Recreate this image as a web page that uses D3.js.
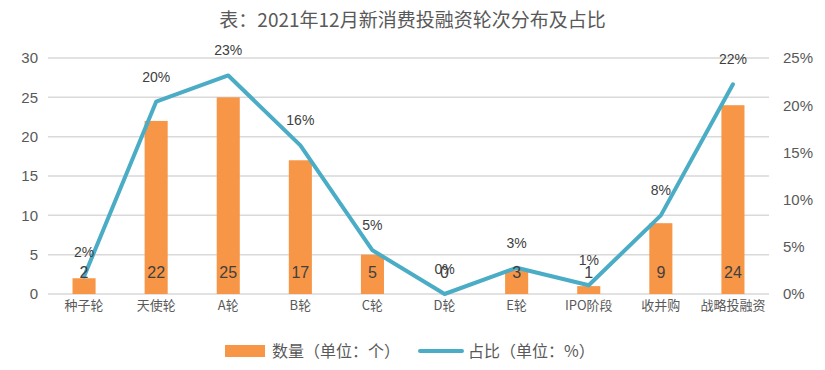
<!DOCTYPE html>
<html>
<head>
<meta charset="utf-8">
<script src="https://cdn.jsdelivr.net/npm/d3@7"></script>
<style>
  body { margin: 0; background: #fff; }
  text { font-family: "Noto Sans CJK SC", "Liberation Sans", sans-serif; }
</style>
</head>
<body>
<div id="chart"></div>
<script>
const WIDTH = 825;
const HEIGHT = 370;

// chart data
const categories = ['种子轮', '天使轮', 'A轮', 'B轮', 'C轮', 'D轮', 'E轮', 'IPO阶段', '收并购', '战略投融资'];
const counts = [2, 22, 25, 17, 5, 0, 3, 1, 9, 24];
const shares = [1.85, 20.37, 23.15, 15.74, 4.63, 0, 2.78, 0.93, 8.33, 22.22];
const leftTicks = [0, 5, 10, 15, 20, 25, 30];
const rightTicks = [0, 5, 10, 15, 20, 25];

const margin = { top: 58, right: 56, bottom: 76, left: 48 };
const innerW = WIDTH - margin.left - margin.right;
const innerH = HEIGHT - margin.top - margin.bottom;

const svg = d3.select('#chart')
  .append('svg')
  .attr('width', WIDTH)
  .attr('height', HEIGHT);

// title
svg.append('text')
  .attr('x', WIDTH / 2)
  .attr('y', 27)
  .attr('text-anchor', 'middle')
  .style('font-size', '19px')
  .style('fill', '#595959')
  .text('表：2021年12月新消费投融资轮次分布及占比');

const g = svg.append('g')
  .attr('transform', `translate(${margin.left},${margin.top})`);

const x = d3.scaleBand()
  .domain(categories)
  .range([0, innerW])
  .paddingInner(0.68)
  .paddingOuter(0.34);

const yLeft = d3.scaleLinear().domain([0, 30]).range([innerH, 0]);
const yRight = d3.scaleLinear().domain([0, 25]).range([innerH, 0]);

// gridlines
g.selectAll('.grid')
  .data(leftTicks)
  .enter()
  .append('line')
  .attr('x1', 0)
  .attr('x2', innerW)
  .attr('y1', d => yLeft(d))
  .attr('y2', d => yLeft(d))
  .style('stroke', '#d9d9d9')
  .style('stroke-width', 1.5);

// left axis
const leftAxis = g.append('g')
  .call(d3.axisLeft(yLeft).tickValues(leftTicks).tickSize(0).tickPadding(10));
leftAxis.select('.domain').remove();
leftAxis.selectAll('text')
  .style('font-size', '15px')
  .style('fill', '#595959')
  .style('font-family', '"Liberation Sans", sans-serif');

// right axis
const rightAxis = g.append('g')
  .attr('transform', `translate(${innerW},0)`)
  .call(d3.axisRight(yRight).tickValues(rightTicks).tickSize(0).tickPadding(14).tickFormat(d => d + '%'));
rightAxis.select('.domain').remove();
rightAxis.selectAll('text')
  .style('font-size', '15px')
  .style('fill', '#595959')
  .style('font-family', '"Liberation Sans", sans-serif');

// category axis
const bottomAxis = g.append('g')
  .attr('transform', `translate(0,${innerH})`)
  .call(d3.axisBottom(x).tickSize(0).tickPadding(7));
bottomAxis.select('.domain').remove();
bottomAxis.selectAll('text')
  .style('font-size', '13px')
  .style('fill', '#595959');

// bars
g.selectAll('.bar')
  .data(counts)
  .enter()
  .append('rect')
  .attr('x', (d, i) => x(categories[i]))
  .attr('y', d => yLeft(d))
  .attr('width', x.bandwidth())
  .attr('height', d => innerH - yLeft(d))
  .style('fill', '#F79646');

// line
const cx = i => x(categories[i]) + x.bandwidth() / 2;
const line = d3.line()
  .x((d, i) => cx(i))
  .y(d => yRight(d));

g.append('path')
  .datum(shares)
  .attr('d', line)
  .style('fill', 'none')
  .style('stroke', '#4BACC6')
  .style('stroke-width', 4)
  .style('stroke-linejoin', 'round')
  .style('stroke-linecap', 'round');

// bar labels (inside base)
g.selectAll('.bar-label')
  .data(counts)
  .enter()
  .append('text')
  .attr('x', (d, i) => cx(i))
  .attr('y', innerH - 16)
  .attr('text-anchor', 'middle')
  .style('font-size', '16px')
  .style('fill', '#404040')
  .style('font-family', '"Liberation Sans", sans-serif')
  .text(d => d);

// line labels (above points)
g.selectAll('.line-label')
  .data(shares)
  .enter()
  .append('text')
  .attr('x', (d, i) => cx(i))
  .attr('y', d => yRight(d) - 20)
  .attr('text-anchor', 'middle')
  .style('font-size', '14px')
  .style('fill', '#404040')
  .style('font-family', '"Liberation Sans", sans-serif')
  .text(d => Math.round(d) + '%');

// legend
const legend = svg.append('g').attr('transform', 'translate(225,351)');
legend.append('rect')
  .attr('x', 0).attr('y', -6)
  .attr('width', 40).attr('height', 12)
  .style('fill', '#F79646');
legend.append('text')
  .attr('x', 47).attr('y', 6)
  .style('font-size', '16px')
  .style('fill', '#595959')
  .text('数量（单位：个）');
legend.append('line')
  .attr('x1', 195).attr('x2', 237)
  .attr('y1', 0).attr('y2', 0)
  .style('stroke', '#4BACC6')
  .style('stroke-width', 4)
  .style('stroke-linecap', 'round');
legend.append('text')
  .attr('x', 243).attr('y', 6)
  .style('font-size', '16px')
  .style('fill', '#595959')
  .text('占比（单位：%）');
</script>
</body>
</html>
